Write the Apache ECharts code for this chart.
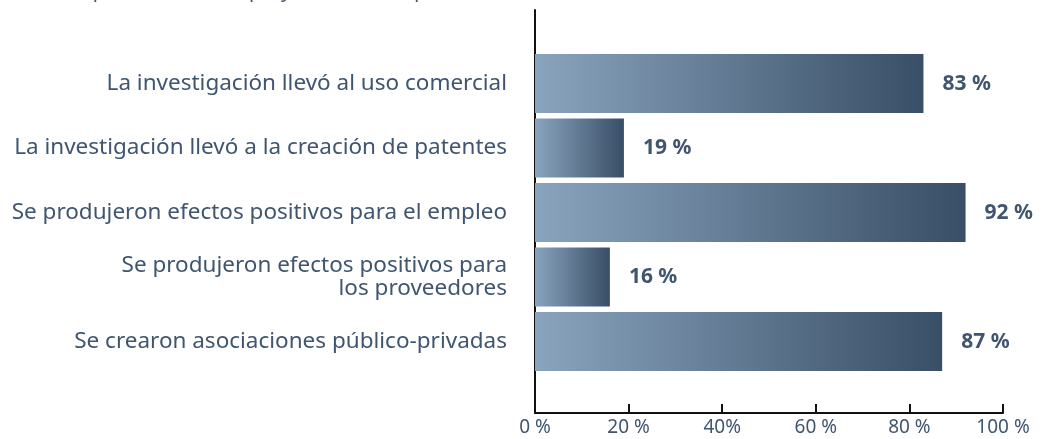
<!DOCTYPE html>
<html>
<head>
<meta charset="utf-8">
<script src="https://cdn.jsdelivr.net/npm/echarts@6/dist/echarts.min.js"></script>
<style>html,body{margin:0;padding:0;background:#fff}#c{width:1046px;height:439px}</style>
</head>
<body>
<div id="c"></div>
<script>
const headerText = 'Aportación de los proyectos en los que...';
const categories = [
  'La investigación llevó al uso comercial',
  'La investigación llevó a la creación de patentes',
  'Se produjeron efectos positivos para el empleo',
  'Se produjeron efectos positivos para\nlos proveedores',
  'Se crearon asociaciones público-privadas'
];
const values = [83, 19, 92, 16, 87];
const tickValues = [0, 20, 40, 60, 80, 100];
const tickLabels = ['0 %', '20 %', '40%', '60 %', '80 %', '100 %'];

const txt = '#3f5570';
const chart = echarts.init(document.getElementById('c'), null, {renderer: 'canvas'});
chart.setOption({
  animation: false,
  title: {
    text: headerText, left: 75, top: -24,
    textStyle: {fontFamily: 'Noto Sans', fontSize: 20, fontWeight: 'normal', color: txt}
  },
  grid: [
    {left: 535, right: 43, top: 51.3, height: 322.5},
    {left: 535, right: 43, top: 10, bottom: 26}
  ],
  xAxis: [
    {gridIndex: 0, type: 'value', min: 0, max: 100, interval: 20, show: false},
    {gridIndex: 1, type: 'value', min: 0, max: 100, interval: 20,
      axisLine: {show: true, lineStyle: {color: '#111', width: 2}},
      axisTick: {show: true, inside: true, length: 9, lineStyle: {color: '#111', width: 2}},
      splitLine: {show: false},
      axisLabel: {
        margin: 5, color: txt, fontFamily: 'Noto Sans', fontSize: 19,
        formatter: v => tickLabels[tickValues.indexOf(v)]
      }
    }
  ],
  yAxis: [
    {gridIndex: 0, type: 'category', inverse: true, data: categories,
      axisLine: {show: false}, axisTick: {show: false},
      axisLabel: {margin: 28, color: txt, fontFamily: 'Noto Sans', fontSize: 22.5, lineHeight: 23, align: 'right'}
    },
    {gridIndex: 1, type: 'value', min: 0, max: 1,
      axisLine: {show: true, onZero: false, lineStyle: {color: '#111', width: 2}},
      axisTick: {show: false}, axisLabel: {show: false}, splitLine: {show: false}
    }
  ],
  series: [{
    type: 'bar', xAxisIndex: 0, yAxisIndex: 0,
    data: values, barCategoryGap: '8.5%',
    itemStyle: {
      color: new echarts.graphic.LinearGradient(0, 0, 1, 0, [
        {offset: 0, color: '#8aa4bd'},
        {offset: 1, color: '#394e67'}
      ])
    },
    label: {
      show: true, position: 'right', distance: 19,
      formatter: p => p.value + ' %',
      color: txt, fontFamily: 'Noto Sans', fontSize: 21, fontWeight: 'bold'
    }
  }]
});
</script>
</body>
</html>
